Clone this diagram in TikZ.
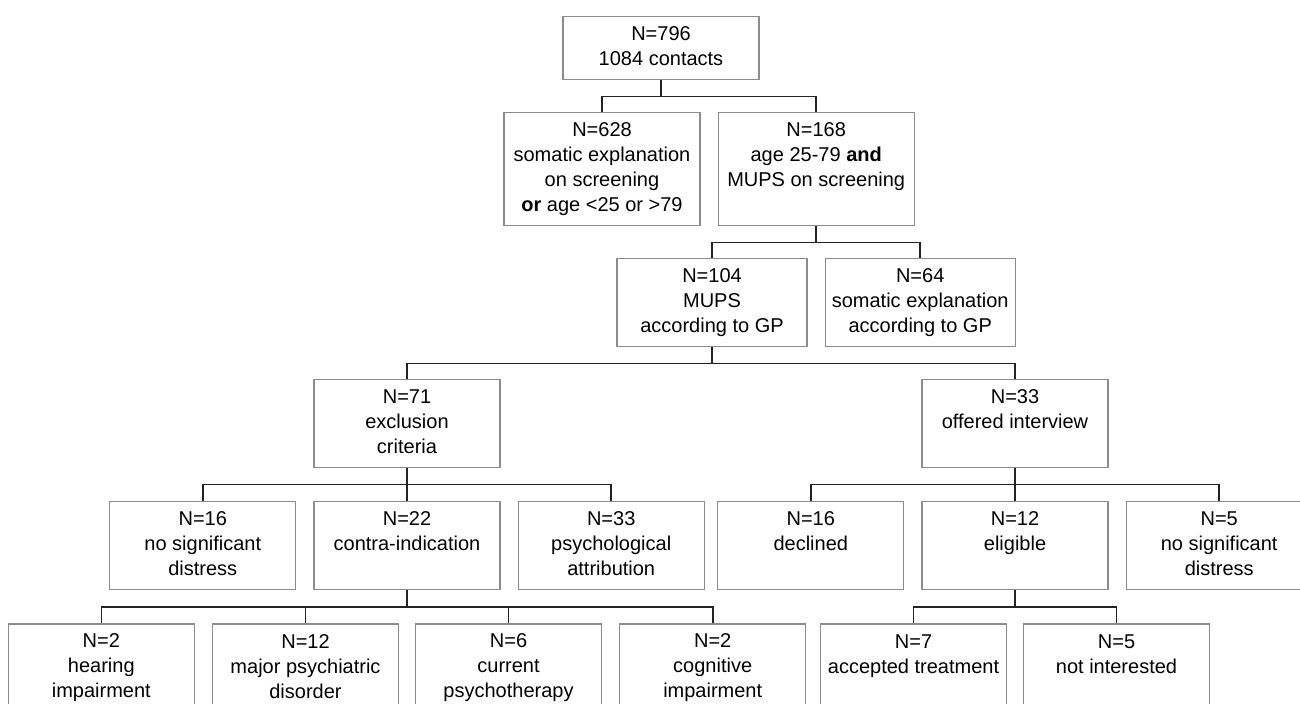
\documentclass[tikz,border=0pt]{standalone}
\usepackage{fontspec}
\setmainfont{Liberation Sans}
\usetikzlibrary{positioning}
\definecolor{boxgray}{RGB}{140,140,140}
\definecolor{linegray}{RGB}{35,35,35}
\newcommand{\topstrut}{\rule{0pt}{9pt}}
\newcommand{\botstrut}{\rule[-1.8pt]{0pt}{1.8pt}}

\begin{document}
\begin{tikzpicture}[x=0.5pt,y=-0.5pt,node distance=8.5pt]
	\tikzstyle{box}=[draw=boxgray,line width=0.6pt,rectangle,inner sep=0pt,
		minimum width=93pt,minimum height=44pt,align=center,
		font=\fontsize{10}{12.5}\selectfont,
		execute at begin node=\topstrut,execute at end node=\botstrut]
	\tikzstyle{wide}=[minimum width=98pt]
	\tikzstyle{mid}=[minimum width=95pt]
	\tikzstyle{tall}=[minimum height=56.5pt]
	\tikzstyle{fork}=[draw=linegray,line width=0.8pt,
		to path={(\tikztostart.south) -- ++(0,-8.25pt) -| (\tikztotarget.north)}]

	\useasboundingbox (0,0) rectangle (1300,704);

	\node[box,wide,minimum height=31.5pt,anchor=north]	(top)	at (661,16)	{N=796\\1084 contacts};

	\node[box,wide,tall,anchor=north]	(somatic)	at (602,112)	{N=628\\somatic explanation\\on screening\\\textbf{or} age <25 or >79};
	\node[box,wide,tall]	(mups)	[right=of somatic]	{N=168\\age 25-79 \textbf{and}\\MUPS on screening\\};

	\node[box,mid,anchor=north]	(gpmups)	at (712,258)	{N=104\\MUPS\\according to GP};
	\node[box,mid]	(gpsomatic)	[right=of gpmups]	{N=64\\somatic explanation\\according to GP};

	\node[box,anchor=north]	(excl)	at (407,379)	{N=71\\exclusion\\criteria};
	\node[box,anchor=north]	(offered)	at (1015,379)	{N=33\\offered interview\\};

	\node[box]	(contra)	[below=16.5pt of excl]	{N=22\\contra-indication\\};
	\node[box]	(nodistress)	[left=of contra]	{N=16\\no significant\\distress};
	\node[box]	(psych)	[right=of contra]	{N=33\\psychological\\attribution};
	\node[box]	(eligible)	[below=16.5pt of offered]	{N=12\\eligible\\};
	\node[box]	(declined)	[left=of eligible]	{N=16\\declined\\};
	\node[box]	(nodistressb)	[right=of eligible]	{N=5\\no significant\\distress};

	\node[box,xshift=-50.75pt]	(psychiatric)	[below=16.5pt of contra]	{N=12\\major psychiatric\\disorder};
	\node[box]	(hearing)	[left=of psychiatric]	{N=2\\hearing\\impairment};
	\node[box,xshift=50.75pt]	(therapy)	[below=16.5pt of contra]	{N=6\\current\\psychotherapy};
	\node[box]	(cognitive)	[right=of therapy]	{N=2\\cognitive\\impairment};
	\node[box,xshift=-50.75pt]	(accepted)	[below=16.5pt of eligible]	{N=7\\accepted treatment\\};
	\node[box,xshift=50.75pt]	(notint)	[below=16.5pt of eligible]	{N=5\\not interested\\};

	\path	(top)	edge[fork]	(somatic)
			edge[fork]	(mups)
		(mups)	edge[fork]	(gpmups)
			edge[fork]	(gpsomatic)
		(gpmups)	edge[fork]	(excl)
			edge[fork]	(offered)
		(excl)	edge[fork]	(nodistress)
			edge[fork]	(contra)
			edge[fork]	(psych)
		(offered)	edge[fork]	(declined)
			edge[fork]	(eligible)
			edge[fork]	(nodistressb)
		(contra)	edge[fork]	(hearing)
			edge[fork]	(psychiatric)
			edge[fork]	(therapy)
			edge[fork]	(cognitive)
		(eligible)	edge[fork]	(accepted)
			edge[fork]	(notint);
\end{tikzpicture}
\end{document}
